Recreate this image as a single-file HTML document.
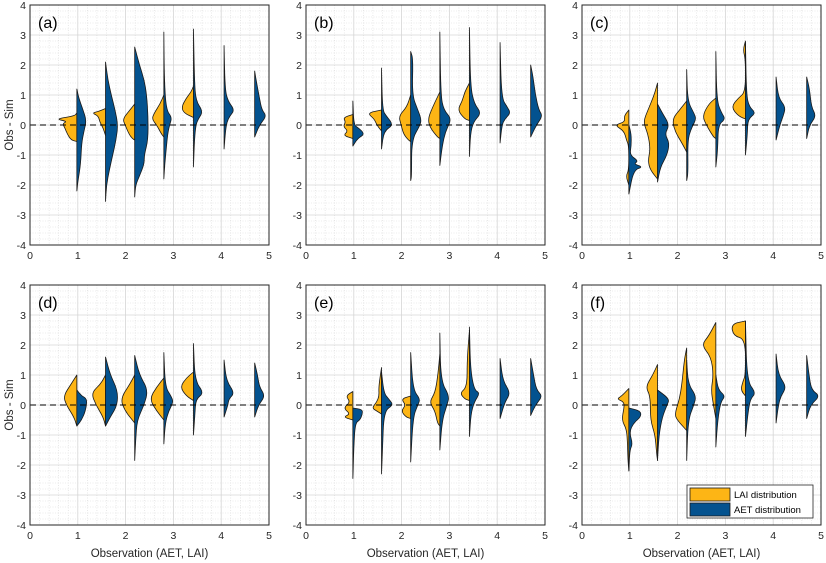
<!DOCTYPE html>
<html><head><meta charset="utf-8"><style>
html,body{margin:0;padding:0;background:#fff;}
svg{display:block;font-family:"Liberation Sans",Arial,sans-serif;}
</style></head><body>
<svg id="chart" width="826" height="563" viewBox="0 0 826 563" xmlns="http://www.w3.org/2000/svg"></svg>
<script>
const panelLabels = ['(a)','(b)','(c)','(d)','(e)','(f)'];
const xTicks = [0,1,2,3,4,5];
const yTicks = [-4,-3,-2,-1,0,1,2,3,4];
const centers = [0.98,1.58,2.19,2.8,3.42,4.06,4.7];
// Each panel: LAI (orange, left) and AET (blue, right) profiles as [y, halfwidth]
const laiA = [
 [[0.4,0],[0.3,0.05],[0.2,0.45],[0.12,0.2],[0.05,0.3],[-0.1,0.25],[-0.3,0.2],[-0.5,0.12],[-0.55,0]],
 [[0.55,0],[0.45,0.15],[0.4,0.28],[0.3,0.15],[0.1,0.12],[-0.1,0.05],[-0.35,0]],
 [[0.7,0],[0.5,0.1],[0.2,0.25],[0,0.2],[-0.3,0.12],[-0.45,0.05],[-0.5,0]],
 [[1.0,0],[0.7,0.08],[0.4,0.2],[0.2,0.25],[0,0.15],[-0.3,0.05],[-0.4,0]],
 [[1.3,0],[1.1,0.05],[0.9,0.15],[0.6,0.25],[0.4,0.2],[0.25,0]]];
const aetA = [
 [[1.2,0],[0.9,0.04],[0.5,0.13],[0.15,0.2],[-0.2,0.15],[-0.6,0.1],[-1.3,0.08],[-1.9,0.02],[-2.2,0]],
 [[2.1,0],[1.5,0.05],[1,0.12],[0.5,0.2],[0,0.26],[-0.5,0.22],[-1,0.15],[-1.5,0.08],[-2,0.02],[-2.55,0]],
 [[2.6,0],[2,0.1],[1.5,0.2],[1,0.25],[0.3,0.28],[-0.5,0.28],[-1,0.2],[-1.3,0.2],[-1.7,0.1],[-2,0.02],[-2.4,0]],
 [[3.1,0],[1.5,0.01],[0.5,0.05],[0.25,0.17],[0,0.12],[-0.3,0.08],[-0.8,0.05],[-1.3,0.02],[-1.8,0]],
 [[3.2,0],[1.5,0.02],[0.8,0.05],[0.45,0.2],[0.2,0.1],[0,0.05],[-0.5,0.02],[-1.4,0]],
 [[2.65,0],[1.2,0.02],[0.8,0.08],[0.5,0.22],[0.3,0.12],[0.1,0.06],[-0.2,0.03],[-0.8,0]],
 [[1.8,0],[1.5,0.03],[0.9,0.1],[0.5,0.15],[0.3,0.25],[0,0.1],[-0.4,0]]];
const laiB = [
 [[0.35,0],[0.25,0.2],[0.1,0.15],[-0.05,0.2],[-0.2,0.1],[-0.35,0.2],[-0.45,0]],
 [[0.5,0],[0.4,0.3],[0.2,0.15],[0,0.1],[-0.2,0]],
 [[1,0],[0.6,0.08],[0.3,0.25],[0,0.2],[-0.3,0.15],[-0.5,0.05],[-0.55,0]],
 [[1.1,0],[0.6,0.15],[0.2,0.25],[-0.1,0.2],[-0.4,0.05],[-0.45,0]],
 [[1.4,0],[1.1,0.1],[0.8,0.15],[0.5,0.25],[0.2,0.1],[0.15,0]]];
const aetB = [
 [[0.8,0],[0,0.02],[-0.1,0.12],[-0.3,0.25],[-0.45,0.1],[-0.7,0]],
 [[1.9,0],[0.5,0.02],[0.3,0.1],[0,0.25],[-0.2,0.05],[-0.8,0]],
 [[2.45,0],[2.2,0.05],[1,0.03],[0.5,0.15],[0.2,0.22],[0,0.2],[-0.5,0.02],[-1.7,0.02],[-1.85,0]],
 [[3.1,0],[1,0.02],[0.5,0.08],[0.2,0.25],[-0.2,0.12],[-0.7,0.05],[-1.35,0]],
 [[3.25,0],[1.3,0.02],[0.7,0.1],[0.4,0.25],[0.1,0.08],[-0.3,0.02],[-1.05,0]],
 [[2.75,0],[0.9,0.03],[0.6,0.15],[0.4,0.22],[0.2,0.1],[0,0.04],[-0.6,0]],
 [[2,0],[1.6,0.05],[1,0.1],[0.5,0.17],[0.3,0.25],[0,0.12],[-0.4,0]]];
const laiC = [
 [[0.5,0],[0.3,0.1],[0.1,0.08],[0,0.3],[-0.2,0.1],[-0.5,0.05],[-0.7,0],[-1.5,0],[-1.7,0.06],[-2,0]],
 [[1.4,0],[1,0.07],[0.5,0.2],[0.1,0.3],[-0.3,0.2],[-0.8,0.15],[-1.2,0.2],[-1.5,0.15],[-1.8,0]],
 [[0.8,0],[0.5,0.15],[0.2,0.3],[-0.2,0.25],[-0.6,0.1],[-0.9,0]],
 [[0.9,0],[0.7,0.15],[0.3,0.28],[0,0.2],[-0.4,0.05],[-0.45,0]],
 [[2.8,0],[2.5,0.05],[2.2,0],[1.1,0],[0.9,0.15],[0.6,0.3],[0.3,0.15],[0.2,0]]];
const aetC = [
 [[0,0],[-0.3,0.05],[-0.7,0.05],[-1,0.02],[-1.2,0.2],[-1.3,0.1],[-1.4,0.3],[-1.5,0.1],[-2.3,0]],
 [[0.7,0],[0.4,0.1],[0,0.25],[-0.3,0.15],[-0.6,0.25],[-1,0.2],[-1.4,0.06],[-1.9,0]],
 [[1.85,0],[0.8,0.02],[0.4,0.15],[0.2,0.2],[-0.1,0.1],[-0.5,0.02],[-1.6,0.03],[-1.85,0]],
 [[2.45,0],[0.8,0.02],[0.4,0.12],[0.2,0.2],[0,0.05],[-0.8,0.04],[-1.4,0]],
 [[2.75,0],[1,0.02],[0.6,0.08],[0.4,0.22],[0.2,0.05],[-0.3,0.04],[-1,0]],
 [[1.6,0],[0.9,0.05],[0.6,0.2],[0.3,0.15],[0,0.08],[-0.5,0]],
 [[1.6,0],[1.2,0.06],[0.6,0.1],[0.3,0.2],[0,0.06],[-0.45,0]]];
const laiD = [
 [[1,0],[0.7,0.12],[0.3,0.28],[0,0.22],[-0.4,0.06],[-0.7,0]],
 [[1,0],[0.7,0.1],[0.4,0.3],[0,0.2],[-0.4,0.05],[-0.7,0]],
 [[1,0],[0.7,0.1],[0.2,0.3],[-0.2,0.2],[-0.5,0.05],[-0.6,0]],
 [[0.9,0],[0.6,0.15],[0.2,0.3],[-0.2,0.15],[-0.5,0]],
 [[1.1,0],[0.9,0.15],[0.6,0.28],[0.3,0.15],[0.15,0]]];
const aetD = [
 [[0.5,0],[0.3,0.1],[0.2,0.22],[-0.2,0.18],[-0.5,0.1],[-0.7,0]],
 [[1.6,0],[1,0.1],[0.5,0.25],[0,0.25],[-0.4,0.1],[-0.7,0]],
 [[1.65,0],[1,0.1],[0.5,0.28],[0,0.2],[-0.5,0.05],[-1.2,0.02],[-1.85,0]],
 [[1.75,0],[0.6,0.03],[0.3,0.15],[0.1,0.2],[-0.2,0.1],[-0.6,0.03],[-1.3,0]],
 [[2.05,0],[0.8,0.03],[0.4,0.22],[0.2,0.05],[-0.3,0.03],[-1,0]],
 [[1.5,0],[0.8,0.05],[0.4,0.22],[0.2,0.1],[0,0.08],[-0.4,0]],
 [[1.4,0],[1,0.06],[0.6,0.1],[0.3,0.22],[0,0.08],[-0.4,0]]];
const laiE = [
 [[0.45,0],[0.3,0.15],[0.1,0.05],[-0.1,0.2],[-0.3,0.05],[-0.4,0.2],[-0.5,0]],
 [[1.25,0],[0.6,0.06],[0.3,0.05],[0.1,0.1],[-0.1,0.2],[-0.2,0.1],[-0.3,0]],
 [[0.3,0],[0.2,0.2],[0,0.1],[-0.2,0.2],[-0.4,0.1],[-0.45,0]],
 [[1.7,0],[1,0.04],[0.4,0.1],[0.1,0.22],[-0.2,0.1],[-0.6,0.05],[-0.7,0]],
 [[2.5,0],[1.5,0.05],[0.6,0.05],[0.4,0.2],[0.2,0.1],[0.15,0]]];
const aetE = [
 [[-0.1,0],[-0.15,0.2],[-0.3,0.2],[-0.5,0.15],[-0.6,0.05],[-1.4,0.02],[-2.45,0]],
 [[1.1,0],[0.4,0.05],[0.2,0.15],[0,0.25],[-0.2,0.05],[-1.5,0.02],[-2.3,0]],
 [[1.75,0],[0.5,0.05],[0.2,0.2],[0,0.15],[-0.4,0.05],[-1.9,0]],
 [[2.4,0],[0.8,0.02],[0.3,0.2],[0,0.15],[-0.5,0.05],[-1.5,0]],
 [[2.6,0],[1.2,0.02],[0.5,0.1],[0.4,0.22],[0.1,0.1],[-0.3,0.03],[-1.05,0]],
 [[1.55,0],[0.8,0.06],[0.4,0.22],[0.1,0.1],[-0.45,0]],
 [[1.55,0],[1,0.06],[0.5,0.12],[0.3,0.25],[0,0.1],[-0.35,0]]];
const laiF = [
 [[0.55,0],[0.3,0.15],[0.2,0.25],[0.1,0.1],[-0.1,0.1],[-0.5,0.15],[-0.8,0.05],[-1.2,0.03],[-1.8,0.02],[-2.2,0]],
 [[1.35,0],[1,0.1],[0.6,0.25],[0.3,0.15],[-0.5,0.15],[-1,0.05],[-1.6,0.02],[-1.85,0]],
 [[1.9,0],[1.5,0.05],[0.7,0.1],[0.2,0.15],[-0.3,0.25],[-0.5,0.2],[-0.85,0]],
 [[2.75,0],[2.3,0.15],[2,0.3],[1.6,0.1],[1,0.05],[0.5,0.1],[0,0.05],[-0.45,0]],
 [[2.8,0],[2.7,0.3],[2.3,0.25],[2.2,0],[1,0],[0.8,0.05],[0.5,0.1],[0.3,0]]];
const aetF = [
 [[-0.1,0],[-0.2,0.25],[-0.4,0.25],[-0.6,0.1],[-0.9,0.01],[-1.3,0.08],[-1.5,0.02],[-2.2,0]],
 [[0.5,0],[0.2,0.25],[0,0.2],[-0.4,0.1],[-1,0.03],[-1.85,0]],
 [[1.5,0],[0.7,0.03],[0.3,0.2],[0,0.15],[-0.5,0.03],[-1.85,0]],
 [[1,0],[0.5,0.05],[0.3,0.2],[0.1,0.1],[-0.5,0.04],[-1.4,0]],
 [[2.8,0],[0.8,0.03],[0.4,0.22],[0.2,0.1],[-0.3,0.05],[-1.05,0]],
 [[1.7,0],[1,0.05],[0.6,0.22],[0.3,0.1],[0,0.05],[-0.6,0]],
 [[1.65,0],[1,0.05],[0.5,0.1],[0.3,0.28],[0,0.08],[-0.45,0]]];
const laiSets = [laiA,laiB,laiC,laiD,laiE,laiF];
const aetSets = [aetA,aetB,aetC,aetD,aetE,aetF];

const NS='http://www.w3.org/2000/svg';
const svg=document.getElementById('chart');
const ORANGE='#FDB515', BLUE='#03528F';
function mk(tag,attrs,parent){const e=document.createElementNS(NS,tag);for(const k in attrs)e.setAttribute(k,attrs[k]);(parent||svg).appendChild(e);return e;}
const lefts=[30,306,582], tops=[5,285], W=239, H=240;

for(let p=0;p<6;p++){
  const L=lefts[p%3], T=tops[Math.floor(p/3)];
  const sx=v=>L+v/5*W, sy=v=>T+(4-v)/8*H;
  const g=mk('g',{});
  
  
  mk('rect',{x:L,y:T,width:W,height:H,fill:'#fff'},g);
  for(let v=0.2;v<5;v+=0.2){ if(Math.abs(v-Math.round(v))<0.01) continue;
    mk('line',{x1:sx(v),x2:sx(v),y1:T,y2:T+H,stroke:'#d9d9d9','stroke-width':0.6,'stroke-dasharray':'1,1.5'},g);}
  for(let v=-3.8;v<4;v+=0.2){ if(Math.abs(v-Math.round(v))<0.01) continue;
    mk('line',{x1:L,x2:L+W,y1:sy(v),y2:sy(v),stroke:'#d9d9d9','stroke-width':0.6,'stroke-dasharray':'1,1.5'},g);}
  xTicks.forEach(v=>{ if(v>0&&v<5) mk('line',{x1:sx(v),x2:sx(v),y1:T,y2:T+H,stroke:'#d6d6d6','stroke-width':0.8},g);
    const t=mk('text',{x:sx(v),y:T+H+14,'text-anchor':'middle','font-size':10.5,fill:'#262626'},g);t.textContent=v;
    
    });
  yTicks.forEach(v=>{ if(v>-4&&v<4) mk('line',{x1:L,x2:L+W,y1:sy(v),y2:sy(v),stroke:'#d6d6d6','stroke-width':0.8},g);
    const t=mk('text',{x:L-4,y:sy(v)+4,'text-anchor':'end','font-size':10.5,fill:'#262626'},g);t.textContent=v;
    
    });
  const drawSide=(prof,c,dir,color,name)=>{
    const pts=prof.map(([y,w])=>[sx(c+dir*w),sy(y)]);
    let d='M'+sx(c)+','+pts[0][1];
    for(let i=0;i<pts.length-1;i++){
      const mx=(pts[i][0]+pts[i+1][0])/2, my=(pts[i][1]+pts[i+1][1])/2;
      d+=' Q'+pts[i][0]+','+pts[i][1]+' '+mx+','+my;
    }
    const last=pts[pts.length-1];
    d+=' L'+last[0]+','+last[1]+' L'+sx(c)+','+last[1]+' Z';
    const path=mk('path',{d:d,fill:color,stroke:'#1a1a1a','stroke-width':0.8,'stroke-linejoin':'round'},g);
    
    
  };
  laiSets[p].forEach((prof,i)=>drawSide(prof,centers[i],-1,ORANGE,'lai-violin'));
  aetSets[p].forEach((prof,i)=>drawSide(prof,centers[i],1,BLUE,'aet-violin'));
  const z=mk('line',{x1:L,x2:L+W,y1:sy(0),y2:sy(0),stroke:'#000','stroke-width':1,'stroke-dasharray':'6,4'},g);
  
  
  mk('rect',{x:L,y:T,width:W,height:H,fill:'none',stroke:'#262626','stroke-width':1},g);
  const lb=mk('text',{x:L+8,y:T+23,'font-size':16,fill:'#000'},g);lb.textContent=panelLabels[p];
  
  
  if(p%3===0){
    const yl=mk('text',{x:0,y:0,'font-size':11.5,fill:'#262626','text-anchor':'middle',transform:'translate(13,'+(T+H/2)+') rotate(-90)'},g);
    yl.textContent='Obs - Sim';
    
    
  }
  if(p>=3){
    const xl=mk('text',{x:L+W/2,y:557,'font-size':11.5,fill:'#262626','text-anchor':'middle'},g);
    xl.textContent='Observation (AET, LAI)';
    
    
  }
}
// legend
const lg=mk('g',{});


mk('rect',{x:687,y:485,width:126,height:33,fill:'#fff',stroke:'#262626','stroke-width':0.8},lg);
mk('rect',{x:690,y:488,width:40,height:13,fill:ORANGE,stroke:'#1a1a1a','stroke-width':0.8},lg);
mk('rect',{x:690,y:503,width:40,height:13,fill:BLUE,stroke:'#1a1a1a','stroke-width':0.8},lg);
const t1=mk('text',{x:734,y:498,'font-size':9.5,fill:'#000'},lg);t1.textContent='LAI distribution';


const t2=mk('text',{x:734,y:513,'font-size':9.5,fill:'#000'},lg);t2.textContent='AET distribution';


</script>
</body></html>
